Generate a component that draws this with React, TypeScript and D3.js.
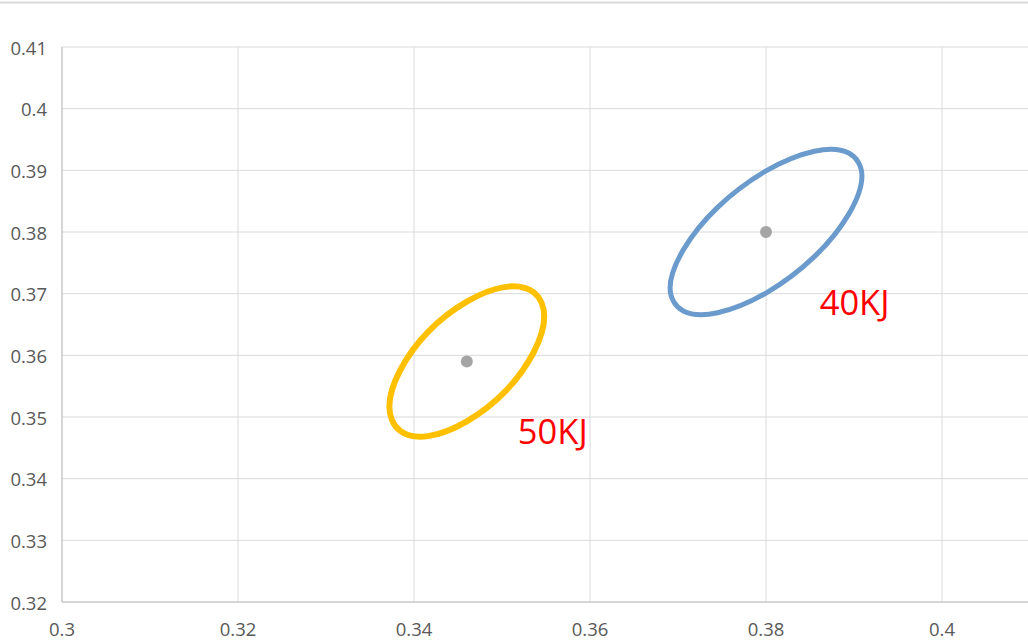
import React from 'react';
import * as d3 from 'd3';

// axis ticks
const X_TICKS = [0.3, 0.32, 0.34, 0.36, 0.38, 0.4];
const Y_TICKS = [0.32, 0.33, 0.34, 0.35, 0.36, 0.37, 0.38, 0.39, 0.4, 0.41];

// centre points (grey dots)
const CENTER_X = [0.38, 0.346];
const CENTER_Y = [0.38, 0.359];

// 40KJ ellipse outline
const BLUE_X = [0.3909, 0.3894, 0.3855, 0.38, 0.3745, 0.3706, 0.3691, 0.3706, 0.3745, 0.38, 0.3855, 0.3894];
const BLUE_Y = [0.3891, 0.3829, 0.376, 0.3701, 0.3669, 0.3672, 0.3709, 0.3771, 0.384, 0.3899, 0.3931, 0.3928];

// 50KJ ellipse outline
const GOLD_X = [0.3548, 0.3536, 0.3504, 0.346, 0.3416, 0.3384, 0.3372, 0.3384, 0.3416, 0.346, 0.3504, 0.3536];
const GOLD_Y = [0.3663, 0.3605, 0.3542, 0.3493, 0.3469, 0.3478, 0.3517, 0.3575, 0.3638, 0.3687, 0.3711, 0.3702];

// annotation labels
const LABELS = ['40KJ', '50KJ'];
const LABEL_X = [0.3861, 0.3518];
const LABEL_Y = [0.3665, 0.3456];

const W = 1028;
const H = 642;

export default function App() {
  const x = d3.scaleLinear().domain([0.3, 0.41]).range([62, 1030]);
  const y = d3.scaleLinear().domain([0.32, 0.41]).range([602, 47]);

  // Excel-style smoothed scatter line
  const line = d3
    .line<[number, number]>()
    .x((d) => x(d[0]))
    .y((d) => y(d[1]))
    .curve(d3.curveCardinalClosed.tension(0));

  const blue = BLUE_X.map((v, i) => [v, BLUE_Y[i]] as [number, number]);
  const gold = GOLD_X.map((v, i) => [v, GOLD_Y[i]] as [number, number]);

  const font = '"Open Sans", sans-serif';

  return (
    <svg
      width={W}
      height={H}
      style={{ position: 'absolute', left: 0, top: 0, background: '#fff' }}
    >
      {/* chart border (top edge visible) */}
      <line x1={0} x2={W} y1={2.5} y2={2.5} stroke="#d9d9d9" strokeWidth={2} />

      {/* gridlines */}
      {Y_TICKS.map((t) => (
        <line key={'gy' + t} x1={x(0.3)} x2={W} y1={y(t)} y2={y(t)} stroke="#d9d9d9" strokeWidth={1} />
      ))}
      {X_TICKS.map((t) => (
        <line key={'gx' + t} x1={x(t)} x2={x(t)} y1={y(0.41)} y2={y(0.32)} stroke="#d9d9d9" strokeWidth={1} />
      ))}

      {/* axes */}
      <line x1={x(0.3)} x2={x(0.3)} y1={y(0.41)} y2={y(0.32)} stroke="#bfbfbf" strokeWidth={1} />
      <line x1={x(0.3)} x2={W} y1={y(0.32)} y2={y(0.32)} stroke="#bfbfbf" strokeWidth={1} />

      {/* tick labels */}
      {Y_TICKS.map((t) => (
        <text
          key={'ly' + t}
          x={47}
          y={y(t)}
          textAnchor="end"
          dominantBaseline="central"
          fontFamily={font}
          fontSize={18.5}
          fill="#595959"
        >
          {d3.format('~g')(t)}
        </text>
      ))}
      {X_TICKS.map((t) => (
        <text
          key={'lx' + t}
          x={x(t)}
          y={628}
          textAnchor="middle"
          dominantBaseline="central"
          fontFamily={font}
          fontSize={18.5}
          fill="#595959"
        >
          {d3.format('~g')(t)}
        </text>
      ))}

      {/* ellipses */}
      <path d={line(blue) ?? ''} fill="none" stroke="#6a9bcc" strokeWidth={5} />
      <path d={line(gold) ?? ''} fill="none" stroke="#ffc000" strokeWidth={6} />

      {/* centre dots */}
      {CENTER_X.map((cx, i) => (
        <circle key={'c' + i} cx={x(cx)} cy={y(CENTER_Y[i])} r={6} fill="#a5a5a5" />
      ))}

      {/* labels */}
      {LABELS.map((l, i) => (
        <text
          key={l}
          x={x(LABEL_X[i])}
          y={y(LABEL_Y[i])}
          fontFamily={font}
          fontSize={34.5}
          fill="#ff0000"
        >
          {l}
        </text>
      ))}
    </svg>
  );
}
